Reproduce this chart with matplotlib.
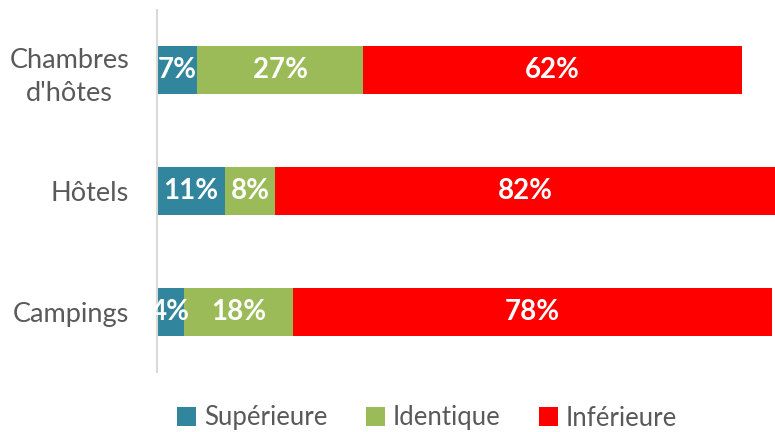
import matplotlib.pyplot as plt
import numpy as np

plt.rcParams['font.family'] = ['Lato', 'DejaVu Sans']

categories = ["Chambres\nd'hôtes", "Hôtels", "Campings"]
series = ["Supérieure", "Identique", "Inférieure"]
superieure = [6.6, 11.1, 4.4]
identique = [27.1, 8.2, 17.8]
inferieure = [61.9, 81.7, 78.3]
colors = ["#31859C", "#9BBB59", "#FF0000"]

fig = plt.figure(figsize=(7.75, 4.32), dpi=100)
ax = fig.add_axes([157 / 775, 1 - 372 / 432, 1 - 157 / 775, 362 / 432])

y = np.arange(len(categories))
left = np.zeros(len(categories))
for name, vals, col in zip(series, [superieure, identique, inferieure], colors):
    bars = ax.barh(y, vals, left=left, height=0.4, color=col, label=name)
    for b, v in zip(bars, vals):
        ax.text(b.get_x() + b.get_width() / 2, b.get_y() + b.get_height() / 2,
                '{:.0f}%'.format(v), ha='center', va='center', color='white',
                fontsize=20, fontweight='bold')
    left += np.array(vals)

ax.set_xlim(0, 101)
ax.set_ylim(2.5, -0.5)
ax.set_yticks(y)
ax.set_yticklabels(categories, fontsize=19.5, color='#595959', linespacing=1.4)
for lbl in ax.get_yticklabels():
    lbl.set_multialignment('center')
ax.tick_params(axis='y', length=0, pad=20)
ax.set_xticks([])
for s in ['top', 'right', 'bottom']:
    ax.spines[s].set_visible(False)
ax.spines['left'].set_color('#D9D9D9')
ax.spines['left'].set_linewidth(1.5)

fig.legend(loc='center', bbox_to_anchor=(427 / 775, 1 - 418 / 432), ncol=3,
           frameon=False, fontsize=18.5, labelcolor='#595959', handlelength=0.75,
           handleheight=0.75, handletextpad=0.3, columnspacing=1.5)

plt.savefig('out.png', dpi=100)
